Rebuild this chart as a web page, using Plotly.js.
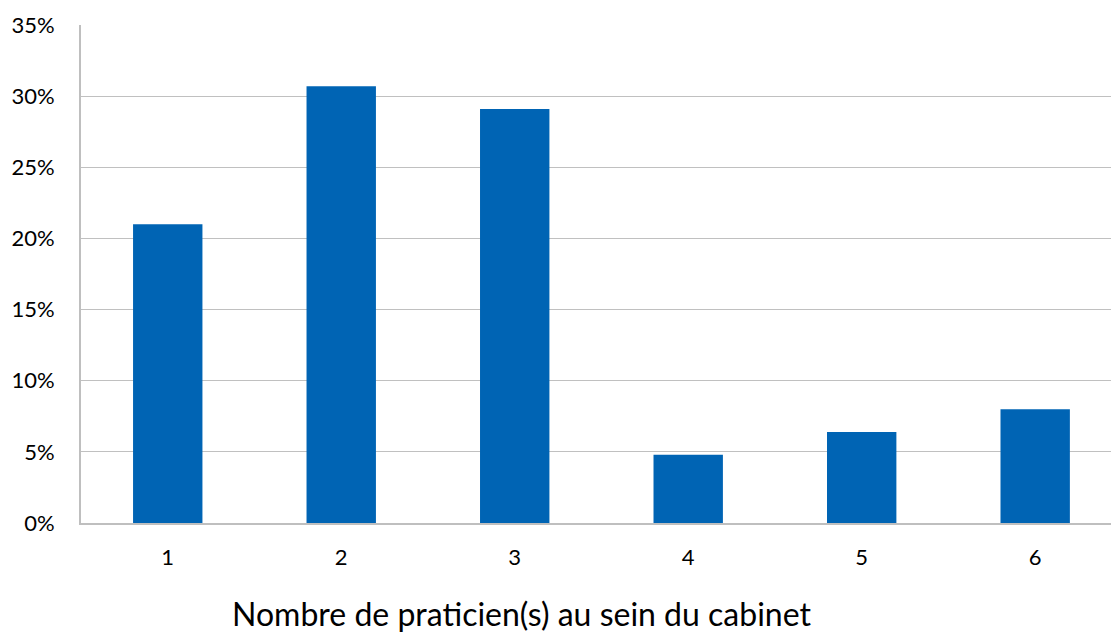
<!DOCTYPE html>
<html>
<head>
<meta charset="utf-8">
<script src="https://cdn.plot.ly/plotly-3.0.1.min.js"></script>
<style>html,body{margin:0;padding:0;background:#fff;overflow:hidden}#chart{width:1111px;height:634px}</style>
</head>
<body>
<div id="chart"></div>
<script>
const categories = [1, 2, 3, 4, 5, 6];
const values = [0.21, 0.307, 0.291, 0.048, 0.064, 0.080];
const yTicks = [0, 0.05, 0.10, 0.15, 0.20, 0.25, 0.30, 0.35];
const yTickLabels = ['0%', '5%', '10%', '15%', '20%', '25%', '30%', '35%'];
const xTitle = 'Nombre de praticien(s) au sein du cabinet';

const font = 'Lato, "Open Sans", sans-serif';

Plotly.newPlot('chart', [{
  type: 'bar',
  x: categories,
  y: values,
  width: 0.4,
  marker: {color: '#0064b4'},
  hoverinfo: 'x+y'
}], {
  width: 1111, height: 634,
  margin: {l: 81, r: 0, t: 25, b: 111},
  paper_bgcolor: '#ffffff', plot_bgcolor: '#ffffff',
  showlegend: false,
  font: {family: font, color: '#000', size: 22},
  xaxis: {
    range: [0.5, 6.437],
    tickvals: categories,
    ticktext: categories.map(String),
    showgrid: false,
    showline: true, linecolor: '#bfbfbf', linewidth: 2,
    ticks: 'outside', ticklen: 0, ticklabelstandoff: 14,
    zeroline: false,
    tickfont: {family: font, size: 22, color: '#000'}
  },
  yaxis: {
    range: [0, 0.35],
    tickvals: yTicks,
    ticktext: yTickLabels,
    showgrid: true, gridcolor: '#c0c0c0', gridwidth: 1,
    showline: true, linecolor: '#bfbfbf', linewidth: 2,
    zeroline: false,
    ticks: 'outside', ticklen: 0, ticklabelstandoff: 20,
    tickfont: {family: font, size: 22, color: '#000'}
  },
  annotations: [{
    text: xTitle,
    xref: 'paper', yref: 'paper',
    x: 0.428, y: -0.182,
    xanchor: 'center', yanchor: 'middle',
    showarrow: false,
    font: {family: font, size: 32, color: '#000'}
  }]
}, {displayModeBar: false, staticPlot: true});
</script>
</body>
</html>
